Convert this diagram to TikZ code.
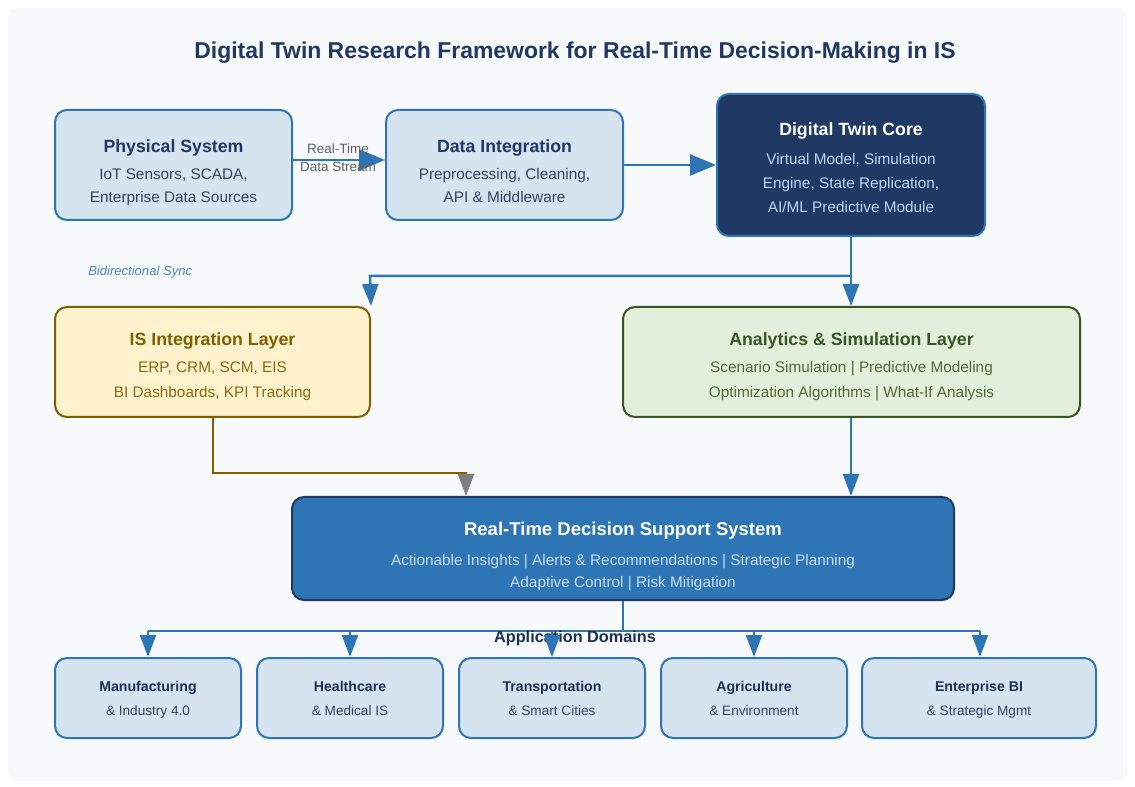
\documentclass[tikz,border=0pt]{standalone}
\usepackage{fontspec}
\setmainfont{Liberation Sans}
\usetikzlibrary{arrows.meta}
\definecolor{bgc}{HTML}{F7F9FB}
\definecolor{navy}{HTML}{1F3864}
\definecolor{bluec}{HTML}{2E75B6}
\definecolor{lightb}{HTML}{D6E4F0}
\definecolor{subtx}{HTML}{34425E}
\definecolor{gold}{HTML}{7F6000}
\definecolor{goldtx}{HTML}{8A6A10}
\definecolor{yellowf}{HTML}{FFF2CC}
\definecolor{greenb}{HTML}{375623}
\definecolor{greentx}{HTML}{4F6B35}
\definecolor{greenf}{HTML}{E2EFDA}
\definecolor{coresub}{HTML}{BDD7EE}
\definecolor{dsssub}{HTML}{C9DCF0}
\definecolor{graytx}{HTML}{606060}
\definecolor{syncc}{HTML}{4A86C8}
\definecolor{grayarrow}{HTML}{7F7F7F}
\def\px{0.75pt}
\tikzset{
  box/.style={draw=bluec, fill=lightb, line width=2*\px, rounded corners=12*\px, inner sep=0pt},
  txt/.style={inner sep=0pt, align=center, text height=0.72em, text depth=0.0em},
  arr/.style={draw=bluec, line width=2.5*\px, -{Triangle[length=22*\px, width=16*\px]}},
  bigarr/.style={draw=bluec, line width=2.5*\px, -{Triangle[length=26*\px, width=21*\px]}},
  con/.style={draw=bluec, line width=2.5*\px},
  btitle/.style={txt, font=\bfseries\fontsize{13.3pt}{16pt}\selectfont},
  bsub/.style={txt, font=\fontsize{11.5pt}{14pt}\selectfont},
}
\begin{document}
\begin{tikzpicture}[x=0.75pt, y=-0.75pt]
\useasboundingbox (0,0) rectangle (1135,787);
\fill[white] (0,0) rectangle (1135,787);
\fill[bgc, rounded corners=10*\px] (8,8) rectangle (1127,781);
% title
\node[txt, text=navy, font=\bfseries\fontsize{17.2pt}{20pt}\selectfont] (title) at (575,54) {Digital Twin Research Framework for Real-Time Decision-Making in IS};

% Physical System
\node[box, minimum width=237*\px, minimum height=110*\px] (phys) at (173.5,165) {};
\node[btitle, text=navy] (physT) at (173.5,148) {Physical System};
\node[bsub, text=subtx] (physS1) at (173.5,175) {IoT Sensors, SCADA,};
\node[bsub, text=subtx] (physS2) at (173.5,198) {Enterprise Data Sources};

% Data Integration
\node[box, minimum width=237*\px, minimum height=110*\px] (data) at (504.5,165) {};
\node[btitle, text=navy] (dataT) at (504.5,148) {Data Integration};
\node[bsub, text=subtx] (dataS1) at (504.5,175) {Preprocessing, Cleaning,};
\node[bsub, text=subtx] (dataS2) at (504.5,198) {API \& Middleware};

% Digital Twin Core
\node[box, fill=navy, minimum width=268*\px, minimum height=142*\px] (core) at (851,165) {};
\node[btitle, text=white] (coreT) at (851,131) {Digital Twin Core};
\node[bsub, text=coresub] (coreS1) at (851,160) {Virtual Model, Simulation};
\node[bsub, text=coresub] (coreS2) at (851,184) {Engine, State Replication,};
\node[bsub, text=coresub] (coreS3) at (851,208) {AI/ML Predictive Module};

% arrows top row
\draw[bigarr] (phys.east |- 0,160) -- (data.west |- 0,160);
\node[txt, text=graytx, font=\fontsize{10.1pt}{12pt}\selectfont] (rt1) at (338,149) {Real-Time};
\node[txt, text=graytx, font=\fontsize{10.1pt}{12pt}\selectfont] (rt2) at (338,167) {Data Stream};
\draw[bigarr] (data.east |- 0,165) -- (core.west |- 0,165);

\node[txt, anchor=west, text=syncc, font=\itshape\fontsize{9.8pt}{12pt}\selectfont] (sync) at (88,271) {Bidirectional Sync};

% IS Integration Layer
\node[box, draw=gold, fill=yellowf, minimum width=315*\px, minimum height=110*\px] (isl) at (212.5,362) {};
\node[btitle, text=gold] (islT) at (212.5,341) {IS Integration Layer};
\node[bsub, text=goldtx] (islS1) at (212.5,368) {ERP, CRM, SCM, EIS};
\node[bsub, text=goldtx] (islS2) at (212.5,393) {BI Dashboards, KPI Tracking};

% Analytics
\node[box, draw=greenb, fill=greenf, minimum width=457*\px, minimum height=110*\px] (ana) at (851.5,362) {};
\node[btitle, text=greenb] (anaT) at (851.5,341) {Analytics \& Simulation Layer};
\node[bsub, text=greentx] (anaS1) at (851.5,368) {Scenario Simulation | Predictive Modeling};
\node[bsub, text=greentx] (anaS2) at (851.5,393) {Optimization Algorithms | What-If Analysis};

% core to layers
\coordinate (split) at (851,276);
\draw[con] (core.south -| 851,0) -- (split);
\draw[arr] (split) -- (370,276) -- (isl.north east);
\draw[arr] (split) -- (ana.north -| 851,0);

% DSS
\node[box, draw=navy, fill=bluec, minimum width=662*\px, minimum height=103*\px] (dss) at (623,548.5) {};
\node[txt, text=white, font=\bfseries\fontsize{13.9pt}{16pt}\selectfont] (dssT) at (623,531) {Real-Time Decision Support System};
\node[bsub, text=dsssub] (dssS1) at (623,561) {Actionable Insights | Alerts \& Recommendations | Strategic Planning};
\node[bsub, text=dsssub] (dssS2) at (623,583) {Adaptive Control | Risk Mitigation};

% layers to DSS
\draw[draw=gold, line width=2.5*\px, -{Triangle[length=22*\px, width=16*\px, color=grayarrow]}] (isl.south -| 213,0) -- (213,473) -- (466,473) -- (dss.north -| 466,0);
\draw[arr] (ana.south -| 851,0) -- (dss.north -| 851,0);

% domains
\tikzset{dom/.style={box, minimum height=80*\px}}
\node[dom, minimum width=186*\px] (d1) at (148,698) {};
\node[dom, minimum width=186*\px] (d2) at (350,698) {};
\node[dom, minimum width=186*\px] (d3) at (552,698) {};
\node[dom, minimum width=186*\px] (d4) at (754,698) {};
\node[dom, minimum width=234*\px] (d5) at (979,698) {};
\foreach \n/\x/\a/\b in {d1/148/Manufacturing/\& Industry 4.0, d2/350/Healthcare/\& Medical IS, d3/552/Transportation/\& Smart Cities, d4/754/Agriculture/\& Environment, d5/979/Enterprise BI/\& Strategic Mgmt}{
  \node[txt, text=navy!85!black, font=\bfseries\fontsize{10.6pt}{13pt}\selectfont] (\n T) at (\x,687) {\a};
  \node[txt, text=subtx, font=\fontsize{10.2pt}{12pt}\selectfont] (\n S) at (\x,711) {\b};
}
\coordinate (bus) at (623,631);
\draw[con, line width=2*\px] (dss.south -| 623,0) -- (bus);
\draw[con, line width=2*\px] (148,631) -- (980,631);
\node[txt, text=navy!85!black, font=\bfseries\fontsize{12.2pt}{14pt}\selectfont] (appd) at (575,638) {Application Domains};
\foreach \n/\x in {d1/148, d2/350, d3/552, d4/754, d5/980}{
  \draw[arr, line width=2*\px] (\x,631) -- (\n.north -| \x,0);
}
\end{tikzpicture}
\end{document}
